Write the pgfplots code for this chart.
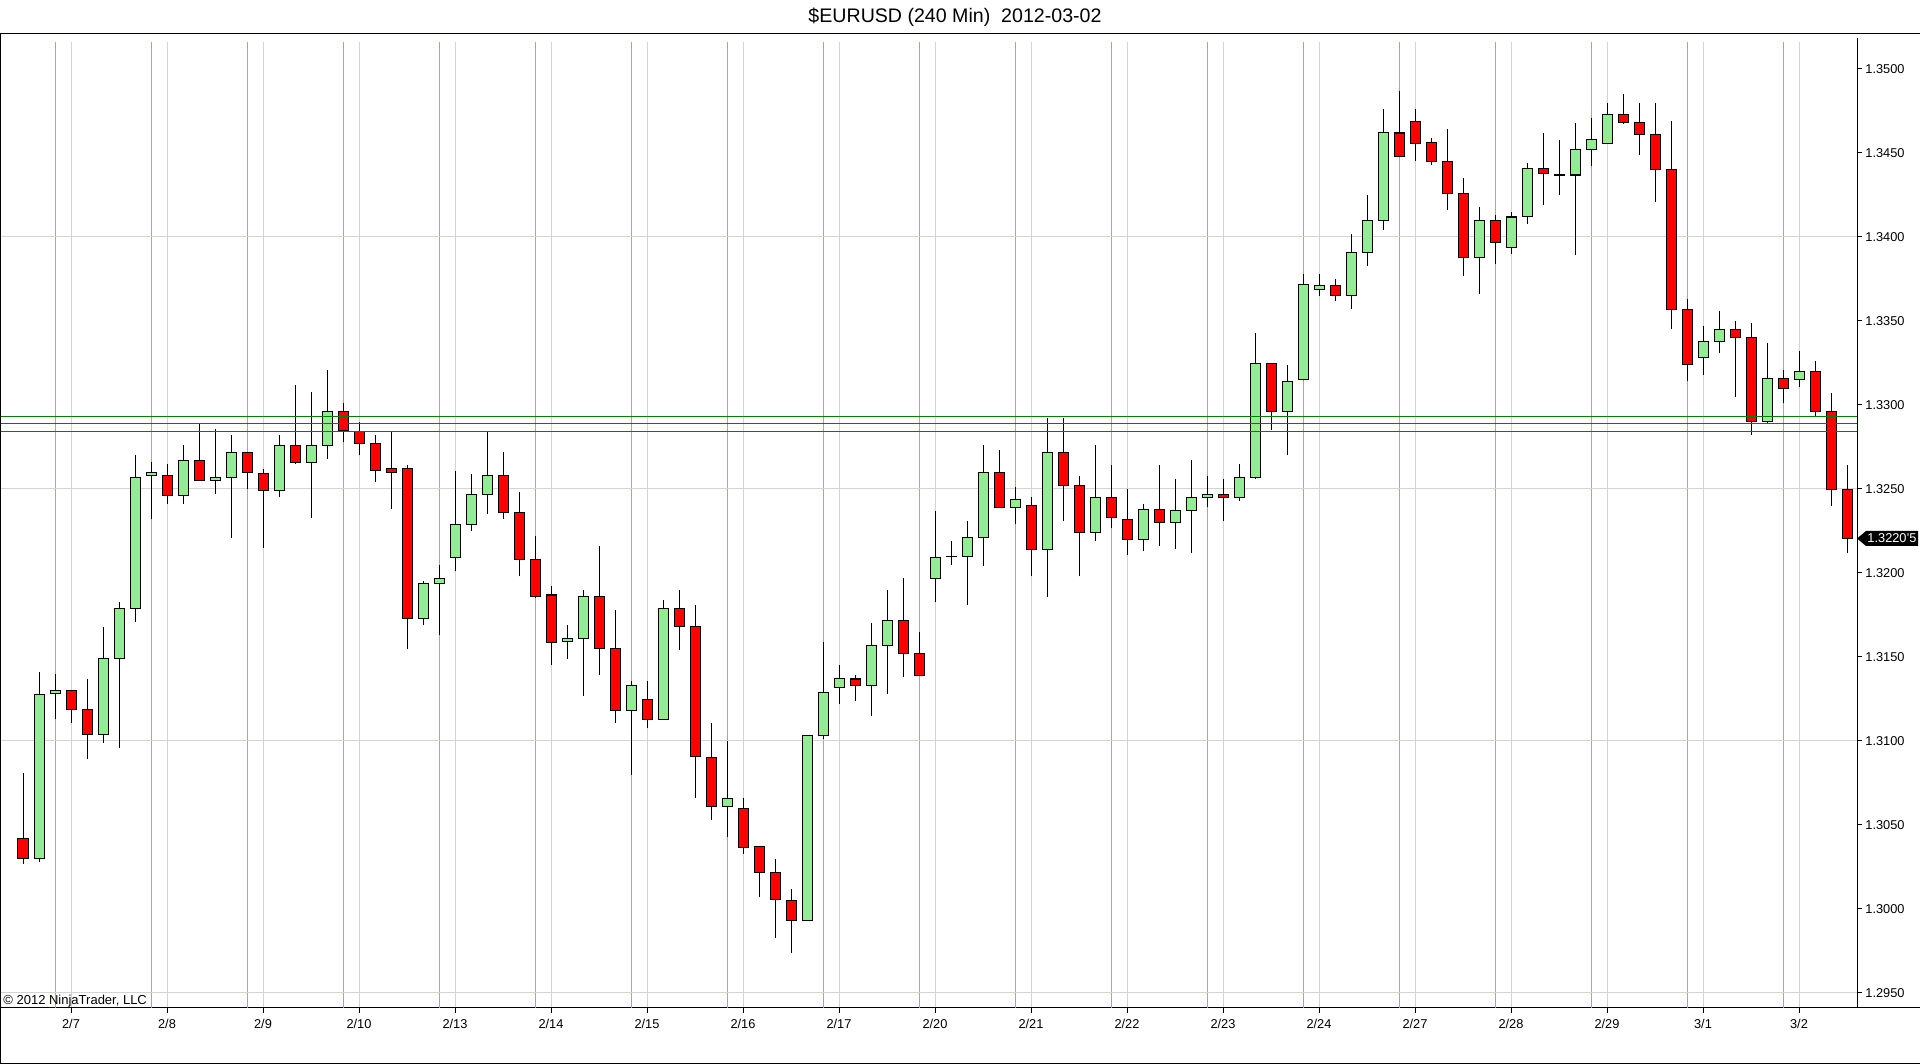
\documentclass[border=0pt]{standalone}
\usepackage{pgfplots}
\pgfplotsset{compat=1.18}
\usepackage{pgfplotstable}
\usepackage{fontspec}
\setmainfont{Liberation Sans}
\definecolor{candleup}{RGB}{144,238,144}
\definecolor{candledown}{RGB}{255,0,0}
\definecolor{sessline}{RGB}{232,160,20}
\definecolor{gridgray}{RGB}{211,211,211}
\definecolor{levelgreen}{RGB}{0,128,0}

\pgfplotstableread{
i O H L C
1 1.3030 1.3141 1.3028 1.3128
2 1.3128 1.3140 1.3113 1.3130
5 1.3104 1.3168 1.3099 1.3149
6 1.3149 1.3183 1.3096 1.3179
7 1.3179 1.3270 1.3171 1.3257
8 1.3258 1.3266 1.3232 1.3260
10 1.3246 1.3276 1.3241 1.3267
12 1.3255 1.3286 1.3247 1.3257
13 1.3257 1.3282 1.3221 1.3272
16 1.3249 1.3282 1.3245 1.3276
18 1.3266 1.3308 1.3233 1.3276
19 1.3276 1.3321 1.3268 1.3296
25 1.3173 1.3195 1.3169 1.3194
26 1.3194 1.3205 1.3163 1.3197
27 1.3209 1.3261 1.3201 1.3229
28 1.3229 1.3259 1.3225 1.3247
29 1.3247 1.3284 1.3235 1.3258
34 1.3159 1.3169 1.3149 1.3161
35 1.3161 1.3190 1.3127 1.3186
38 1.3118 1.3136 1.3080 1.3133
40 1.3113 1.3184 1.3113 1.3179
44 1.3061 1.3100 1.3043 1.3066
49 1.2993 1.3103 1.2993 1.3103
50 1.3103 1.3159 1.3101 1.3129
51 1.3132 1.3145 1.3122 1.3137
53 1.3133 1.3170 1.3115 1.3157
54 1.3157 1.3190 1.3128 1.3172
57 1.3197 1.3237 1.3183 1.3209
58 1.3210 1.3219 1.3205 1.3210
59 1.3210 1.3231 1.3181 1.3221
60 1.3221 1.3276 1.3204 1.3260
62 1.3239 1.3251 1.3229 1.3244
64 1.3214 1.3292 1.3186 1.3272
67 1.3224 1.3276 1.3219 1.3245
70 1.3220 1.3241 1.3213 1.3238
72 1.3230 1.3256 1.3214 1.3237
73 1.3237 1.3267 1.3212 1.3245
74 1.3245 1.3258 1.3239 1.3247
76 1.3245 1.3265 1.3243 1.3257
77 1.3257 1.3343 1.3256 1.3325
79 1.3296 1.3324 1.3270 1.3314
80 1.3315 1.3378 1.3315 1.3372
81 1.3369 1.3378 1.3365 1.3371
83 1.3365 1.3402 1.3357 1.3391
84 1.3391 1.3425 1.3383 1.3410
85 1.3410 1.3476 1.3404 1.3462
91 1.3388 1.3418 1.3366 1.3410
93 1.3394 1.3415 1.3390 1.3412
94 1.3412 1.3444 1.3408 1.3441
96 1.3437 1.3458 1.3425 1.3437
97 1.3437 1.3468 1.3389 1.3452
98 1.3452 1.3471 1.3442 1.3458
99 1.3456 1.3480 1.3456 1.3473
105 1.3328 1.3347 1.3318 1.3338
106 1.3338 1.3356 1.3331 1.3345
109 1.3290 1.3337 1.3289 1.3316
111 1.3315 1.3332 1.3311 1.3320
}\upcandles

\pgfplotstableread{
i O H L C
0 1.3042 1.3081 1.3027 1.3030
3 1.3130 1.3130 1.3111 1.3119
4 1.3119 1.3137 1.3089 1.3104
9 1.3258 1.3265 1.3241 1.3246
11 1.3267 1.3289 1.3255 1.3255
14 1.3272 1.3272 1.3250 1.3260
15 1.3259 1.3262 1.3215 1.3249
17 1.3276 1.3312 1.3265 1.3266
20 1.3296 1.3301 1.3278 1.3285
21 1.3284 1.3290 1.3270 1.3277
22 1.3277 1.3282 1.3254 1.3261
23 1.3262 1.3284 1.3238 1.3260
24 1.3262 1.3264 1.3155 1.3173
30 1.3258 1.3272 1.3232 1.3236
31 1.3236 1.3248 1.3198 1.3208
32 1.3208 1.3222 1.3185 1.3186
33 1.3187 1.3192 1.3145 1.3159
36 1.3186 1.3216 1.3139 1.3155
37 1.3155 1.3178 1.3111 1.3118
39 1.3125 1.3136 1.3108 1.3113
41 1.3179 1.3190 1.3154 1.3168
42 1.3168 1.3181 1.3066 1.3091
43 1.3090 1.3111 1.3053 1.3061
45 1.3060 1.3066 1.3033 1.3037
46 1.3037 1.3037 1.3007 1.3022
47 1.3022 1.3030 1.2983 1.3006
48 1.3005 1.3012 1.2974 1.2993
52 1.3137 1.3139 1.3124 1.3133
55 1.3172 1.3197 1.3138 1.3152
56 1.3152 1.3165 1.3139 1.3139
61 1.3260 1.3273 1.3239 1.3239
63 1.3240 1.3245 1.3198 1.3214
65 1.3272 1.3292 1.3231 1.3252
66 1.3252 1.3258 1.3198 1.3224
68 1.3245 1.3264 1.3227 1.3233
69 1.3232 1.3250 1.3211 1.3220
71 1.3238 1.3264 1.3216 1.3230
75 1.3247 1.3256 1.3231 1.3245
78 1.3325 1.3325 1.3285 1.3296
82 1.3371 1.3375 1.3362 1.3365
86 1.3462 1.3487 1.3448 1.3448
87 1.3469 1.3476 1.3445 1.3456
88 1.3456 1.3459 1.3443 1.3445
89 1.3445 1.3464 1.3416 1.3426
90 1.3426 1.3435 1.3377 1.3388
92 1.3410 1.3413 1.3384 1.3397
95 1.3441 1.3462 1.3419 1.3438
100 1.3473 1.3485 1.3467 1.3468
101 1.3468 1.3480 1.3449 1.3461
102 1.3461 1.3480 1.3421 1.3440
103 1.3440 1.3469 1.3345 1.3357
104 1.3357 1.3363 1.3314 1.3324
107 1.3345 1.3350 1.3305 1.3340
108 1.3340 1.3349 1.3282 1.3290
110 1.3316 1.3321 1.3301 1.3310
112 1.3320 1.3326 1.3293 1.3296
113 1.3296 1.3307 1.3240 1.3250
114 1.3250 1.3264 1.3212 1.32205
}\downcandles

\pgfplotsset{
  wick/.style={draw=none, no markers, forget plot,
    error bars/.cd, y dir=plus, y explicit, error mark=none,
    error bar style={draw=black, line width=0.5pt}},
  bodyout/.style={draw=none, no markers, forget plot,
    error bars/.cd, y dir=both, y explicit, error mark=none,
    error bar style={draw=black, line width=5.5pt}},
  bodyin/.style={draw=none, no markers, forget plot,
    error bars/.cd, y dir=both, y explicit, error mark=none,
    error bar style={draw=#1, line width=4.5pt}},
}

\begin{document}
\begin{tikzpicture}
\path[use as bounding box] (0pt,0pt) rectangle (960pt,532pt);
% outer frame
\draw[line width=0.5pt] (0pt,515pt) -- (960pt,515pt);
\draw[line width=0.5pt] (0.25pt,515pt) -- (0.25pt,0.25pt) -- (960pt,0.25pt);
\draw[line width=0.5pt] (0pt,28pt) -- (960pt,28pt);
\draw[line width=0.5pt] (928.5pt,510pt) -- (928.5pt,513pt);
% title
\node[anchor=base, inner sep=0pt, font=\fontsize{9.8pt}{11pt}\selectfont] at (477.5pt,520.5pt) {\$EURUSD (240 Min)\ \ 2012-03-02};
\begin{axis}[
  at={(0.5pt,28pt)}, anchor=south west,
  scale only axis, width=928pt, height=483pt,
  xmin=-1.375, xmax=114.625, ymin=1.2941071, ymax=1.3516071,
  axis x line*=bottom, axis y line*=right,
  axis line style={line width=0.5pt, black},
  every tick/.style={black, line width=0.5pt},
  tick align=outside, major tick length=2.5pt,
  xtick={3,9,15,21,27,33,39,45,51,57,63,69,75,81,87,93,99,105,111},
  xticklabels={\mbox{2/7},\mbox{2/8},\mbox{2/9},\mbox{2/10},\mbox{2/13},\mbox{2/14},\mbox{2/15},\mbox{2/16},\mbox{2/17},\mbox{2/20},\mbox{2/21},\mbox{2/22},\mbox{2/23},\mbox{2/24},\mbox{2/27},\mbox{2/28},\mbox{2/29},\mbox{3/1},\mbox{3/2}},
  xmajorgrids=true,
  major grid style={gridgray, line width=0.5pt},
  extra x ticks={2,8,14,20,26,32,38,44,50,56,62,68,74,80,86,92,98,104,110},
  extra x tick labels={},
  extra x tick style={grid=major, major grid style={sessline, line width=0.5pt}, major tick length=0pt},
  ytick={1.295,1.300,1.305,1.310,1.315,1.320,1.325,1.330,1.335,1.340,1.345,1.350},
  extra y ticks={1.295,1.310,1.325,1.340},
  extra y tick labels={},
  extra y tick style={grid=major, major grid style={gridgray, line width=0.5pt}, major tick length=0pt},
  scaled y ticks=false,
  /pgf/number format/assume math mode=true,
  tick label style={font=\fontsize{6.4pt}{7.5pt}\selectfont},
  xticklabel style={anchor=base, inner sep=0pt, yshift=-7.5pt},
  yticklabel style={anchor=west, inner sep=0pt, xshift=1.5pt,
    /pgf/number format/fixed, /pgf/number format/fixed zerofill,
    /pgf/number format/precision=4, /pgf/number format/1000 sep={}},
  clip=true,
]
% wicks
\addplot [wick] table [x=i, y=L, y error expr=\thisrow{H}-\thisrow{L}] {\upcandles};
\addplot [wick] table [x=i, y=L, y error expr=\thisrow{H}-\thisrow{L}] {\downcandles};
% bodies
\addplot [bodyout] table [x=i, y expr={(\thisrow{O}+\thisrow{C})/2}, y error expr={abs(\thisrow{C}-\thisrow{O})/2+0.00003}] {\upcandles};
\addplot [bodyin=candleup] table [x=i, y expr={(\thisrow{O}+\thisrow{C})/2}, y error expr={max(abs(\thisrow{C}-\thisrow{O})/2-0.00003,0)}] {\upcandles};
\addplot [bodyout] table [x=i, y expr={(\thisrow{O}+\thisrow{C})/2}, y error expr={abs(\thisrow{C}-\thisrow{O})/2+0.00003}] {\downcandles};
\addplot [bodyin=candledown] table [x=i, y expr={(\thisrow{O}+\thisrow{C})/2}, y error expr={max(abs(\thisrow{C}-\thisrow{O})/2-0.00003,0)}] {\downcandles};
% horizontal level lines
\addplot [levelgreen, line width=0.5pt, forget plot] coordinates {(-1.375,1.32929) (114.625,1.32929)};
\addplot [levelgreen, line width=0.5pt, forget plot] coordinates {(-1.375,1.32891) (114.625,1.32891)};
\addplot [levelgreen, line width=0.5pt, forget plot] coordinates {(-1.375,1.32844) (114.625,1.32844)};
\end{axis}
% last price marker
\fill[black] (928.5pt,262.75pt) -- (933pt,266.5pt) -- (959pt,266.5pt) -- (959pt,259pt) -- (933pt,259pt) -- cycle;
\node[text=white, inner sep=0pt, font=\fontsize{6.4pt}{7.5pt}\selectfont] at (946pt,262.75pt) {1.3220'5};
% copyright
\node[anchor=base west, inner sep=0pt, font=\fontsize{6.5pt}{8pt}\selectfont] at (1.5pt,29.5pt) {\textcopyright\ 2012 NinjaTrader, LLC};
\end{tikzpicture}
\end{document}
